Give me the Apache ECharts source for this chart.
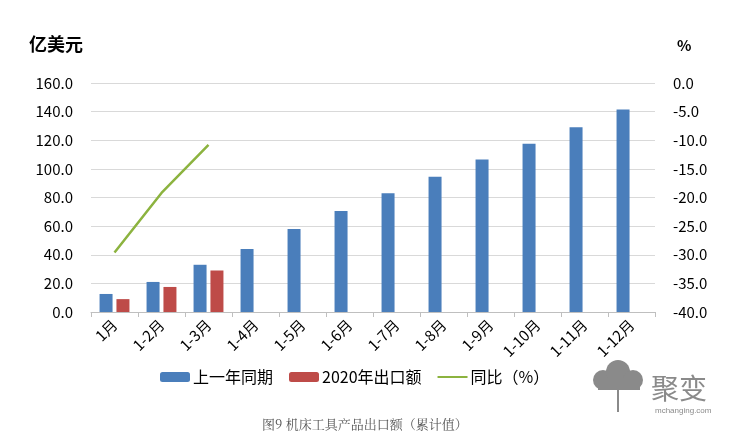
<!DOCTYPE html>
<html><head><meta charset="utf-8">
<script src="https://cdn.jsdelivr.net/npm/echarts@6/dist/echarts.min.js"></script>
<style>html,body{margin:0;padding:0;background:#fff}#c{width:737px;height:444px}</style>
</head><body><div id="c"></div>
<script>
const categories = ['1月','1-2月','1-3月','1-4月','1-5月','1-6月','1-7月','1-8月','1-9月','1-10月','1-11月','1-12月'];
const lastYear = [12.6, 21.0, 33.0, 44.0, 58.0, 70.5, 83.0, 94.5, 106.5, 117.5, 129.0, 141.5];
const export2020 = [9.0, 17.5, 29.0];
const yoy = [-29.6, -19.2, -10.8];
const leftTicks = [0,20,40,60,80,100,120,140,160];
const rightTicks = [-40,-35,-30,-25,-20,-15,-10,-5,0];

const chart = echarts.init(document.getElementById('c'));
const font = '"Microsoft YaHei","Noto Sans CJK SC",sans-serif';
chart.setOption({
  animation:false,
  textStyle:{fontFamily:font},
  grid:{left:91,right:82,top:83,bottom:132},
  legend:{top:364,left:155,itemGap:16,itemWidth:30,itemHeight:10,
    textStyle:{fontSize:16,color:'#000',fontFamily:font,padding:[0,0,0,-2]},
    data:[{name:'上一年同期'},{name:'2020年出口额'},{name:'同比（%）',icon:'path://M0,0 L30,0 L30,2 L0,2 Z'}]},
  xAxis:{type:'category',data:categories,
    axisLine:{lineStyle:{color:'#bfbfbf'}},
    axisTick:{show:true,lineStyle:{color:'#bfbfbf'},length:5},
    axisLabel:{rotate:45,fontSize:15,color:'#000',margin:10,interval:0}},
  yAxis:[{type:'value',min:0,max:160,interval:20,name:'亿美元',nameLocation:'end',nameGap:30,
      nameTextStyle:{fontSize:18,fontWeight:'bold',color:'#000',align:'right',padding:[0,8,0,0]},
      axisLabel:{formatter:v=>v.toFixed(1),fontSize:15,color:'#000',margin:18},
      splitLine:{lineStyle:{color:'#d9d9d9'}},axisLine:{show:false},axisTick:{show:false}},
    {type:'value',min:-40,max:0,interval:5,name:'%',nameLocation:'end',nameGap:30,
      nameTextStyle:{fontSize:15,fontWeight:'bold',color:'#000',align:'left',padding:[0,0,0,22]},
      axisLabel:{formatter:v=>v.toFixed(1),fontSize:15,color:'#000',margin:18},
      splitLine:{show:false},axisLine:{show:false},axisTick:{show:false}}],
  series:[
    {name:'上一年同期',type:'bar',data:lastYear,barWidth:13,barGap:'30%',itemStyle:{color:'#4a7ebb'}},
    {name:'2020年出口额',type:'bar',data:export2020,barWidth:13,itemStyle:{color:'#be4b48'}},
    {name:'同比（%）',type:'line',yAxisIndex:1,data:yoy,symbol:'none',lineStyle:{color:'#8cb33f',width:2.5},itemStyle:{color:'#8cb33f'}}
  ],
  graphic:[
    {type:'text',left:262,top:418,style:{text:'图9 机床工具产品出口额（累计值）',fontSize:13,fill:'#555',fontFamily:'"Noto Serif CJK SC","Noto Sans CJK SC",serif'}},
    {type:'circle',shape:{cx:603,cy:380,r:10},style:{fill:'#8a8a8a'}},
    {type:'circle',shape:{cx:618,cy:372,r:12},style:{fill:'#8a8a8a'}},
    {type:'circle',shape:{cx:633,cy:380,r:10},style:{fill:'#8a8a8a'}},
    {type:'rect',shape:{x:598,y:378,width:42,height:12},style:{fill:'#8a8a8a'}},
    {type:'line',shape:{x1:618,y1:390,x2:618,y2:412},style:{stroke:'#8a8a8a',lineWidth:2}},
    {type:'text',left:651,top:374,style:{text:'聚变',fontSize:28,fill:'#8a8a8a',fontFamily:font}},
    {type:'text',left:655,top:407,style:{text:'mchanging.com',fontSize:8,fill:'#8a8a8a'}}
  ]
});
</script></body></html>
